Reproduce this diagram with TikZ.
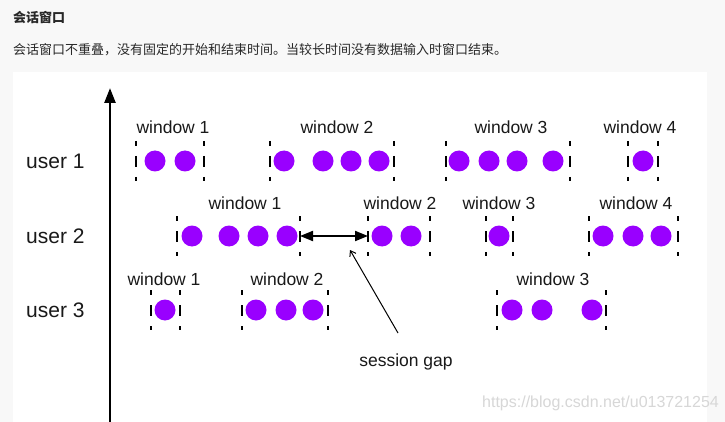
\documentclass[tikz,border=0pt]{standalone}
\usepackage{fontspec}
\setmainfont{Liberation Sans}
\newfontfamily\cjk{Noto Sans CJK SC}
\usetikzlibrary{arrows.meta}
\definecolor{bggray}{RGB}{248,248,248}
\definecolor{purp}{RGB}{153,0,255}
\definecolor{hdr}{RGB}{40,40,40}
\definecolor{wmark}{RGB}{215,215,215}
\newcommand\mkwin[5]{%
  \coordinate (#1l) at (#2,#4);
  \coordinate (#1r) at (#3,#4);
  \draw[wbar] ([yshift=20pt]#1l) -- ([yshift=-20pt]#1l);
  \draw[wbar] ([yshift=20pt]#1r) -- ([yshift=-20pt]#1r);
  \foreach \dx [count=\k] in {#5} \node[dot] (#1d\k) at (\dx,#4) {};
}
\begin{document}
\begin{tikzpicture}[x=1pt,y=-1pt,
  dot/.style={circle,fill=purp,minimum size=21pt,inner sep=0pt},
  wbar/.style={line width=2.5pt,dash pattern=on 11pt off 10pt,dash phase=6pt},
  wlabel/.style={font=\fontsize{17.5}{20}\selectfont,inner sep=0pt,text=black!90},
  ulabel/.style={font=\fontsize{21}{24}\selectfont,inner sep=0pt,anchor=west,text=black!90},
  cjktext/.style={font=\cjk\fontsize{13}{16}\selectfont,inner sep=0pt,anchor=west,text=hdr},
]
\useasboundingbox (0,0) rectangle (725,422);
\fill[bggray] (0,0) rectangle (725,422);
\fill[white] (13,72) rectangle (707,422);

% header
\node[cjktext,font=\cjk\bfseries\fontsize{13}{16}\selectfont] (title) at (13,18) {会话窗口};
\node[cjktext] (desc) at (13,50) {会话窗口不重叠，没有固定的开始和结束时间。当较长时间没有数据输入时窗口结束。};

% axis
\coordinate (axbot) at (110,422);
\coordinate (axtop) at (110,88);
\draw[line width=2.5pt,-{Triangle[length=15pt,width=11pt]}] (axbot) -- (axtop);

% user labels
\node[ulabel] (user1) at (26,161) {user 1};
\node[ulabel] (user2) at (26,236) {user 2};
\node[ulabel] (user3) at (26,310) {user 3};

% row 1
\mkwin{uA1}{136}{204}{161}{155,185}
\mkwin{uA2}{270}{394}{161}{284,323,351,379}
\mkwin{uA3}{446}{570}{161}{459,489,517,553}
\mkwin{uA4}{628}{658}{161}{643}
\node[wlabel] (lA1) at (173,127) {window 1};
\node[wlabel] (lA2) at (337,127) {window 2};
\node[wlabel] (lA3) at (511,127) {window 3};
\node[wlabel] (lA4) at (640,127) {window 4};

% row 2
\mkwin{uB1}{177}{300}{236}{192,229,258,287}
\mkwin{uB2}{368}{430}{236}{382,411}
\mkwin{uB3}{486}{513}{236}{499}
\mkwin{uB4}{589}{678}{236}{603,633,661}
\node[wlabel] (lB1) at (245,203) {window 1};
\node[wlabel] (lB2) at (400,203) {window 2};
\node[wlabel] (lB3) at (499,203) {window 3};
\node[wlabel] (lB4) at (636,203) {window 4};

% row 3
\mkwin{uC1}{151}{180}{310}{165}
\mkwin{uC2}{242}{328}{310}{256,286,313}
\mkwin{uC3}{497}{606}{310}{512,542,592}
\node[wlabel] (lC1) at (164,279) {window 1};
\node[wlabel] (lC2) at (287,279) {window 2};
\node[wlabel] (lC3) at (553,279) {window 3};

% session gap
\draw[line width=2pt,{Triangle[length=13pt,width=10pt]}-{Triangle[length=13pt,width=10pt]}] (uB1r) -- (uB2l);
\node[wlabel] (gap) at (406,362) {session gap};
\coordinate (gaptail) at (398,333);
\coordinate (gaptip) at (350,250);
\draw[line width=1pt,-{Straight Barb[length=5pt,width=7pt]}] (gaptail) -- (gaptip);

% watermark
\node[font=\fontsize{16}{18}\selectfont,text=wmark,inner sep=0pt,anchor=west] (wm) at (482,403) {https://blog.csdn.net/u013721254};
\end{tikzpicture}
\end{document}
